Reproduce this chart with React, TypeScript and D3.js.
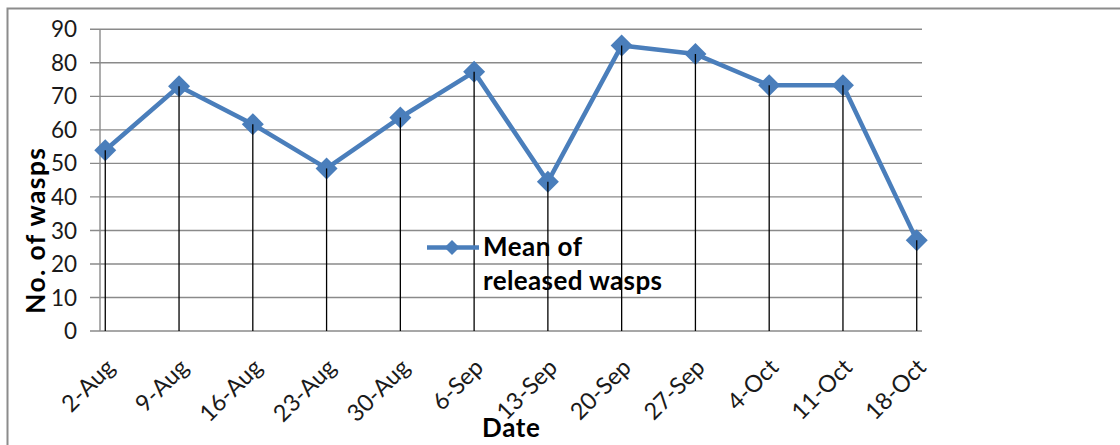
import React from "react";
import * as d3 from "d3";

const categories = ["2-Aug", "9-Aug", "16-Aug", "23-Aug", "30-Aug", "6-Sep", "13-Sep", "20-Sep", "27-Sep", "4-Oct", "11-Oct", "18-Oct"];
const meanReleased = [53.9, 73.0, 61.7, 48.5, 63.7, 77.3, 44.5, 85.2, 82.6, 73.3, 73.3, 27.1];
const yTicks = [0, 10, 20, 30, 40, 50, 60, 70, 80, 90];
const seriesName = ["Mean of", "released wasps"];
const xTitle = "Date";
const yTitle = "No. of wasps";

const W = 1120;
const H = 445;
const left = 100;
const right = 922;
const top = 29.3;
const bottom = 331;
const blue = "#4a7ebb";
const grid = "#8a8a8a";
const font = "Lato, 'Open Sans', sans-serif";

const parse = d3.timeParse("%d-%b-%Y");
const dates = categories.map((c) => parse(c + "-2000") as Date);
const halfDay = 12 * 3600 * 1000;

const x = d3
  .scaleTime()
  .domain([new Date(+dates[0] - halfDay), new Date(+dates[dates.length - 1] + halfDay)])
  .range([left, right]);
const y = d3.scaleLinear().domain([0, 90]).range([bottom, top]);

const diamond = (cx: number, cy: number, r: number) =>
  `M${cx},${cy - r}L${cx + r},${cy}L${cx},${cy + r}L${cx - r},${cy}Z`;

export default function App() {
  const pts = meanReleased.map((v, i) => [x(dates[i]), y(v)] as [number, number]);
  const line = d3.line()(pts) || "";
  const legY = 247.5;
  return (
    <svg width={W} height={H} style={{ position: "absolute", left: 0, top: 0, display: "block", background: "#fff" }}>
      {/* chart border */}
      <path d={`M7.5,${H + 5}V8.5H${W + 5}`} fill="none" stroke="#8c8c8c" strokeWidth={2} />
      {/* gridlines */}
      {yTicks.map((t) => (
        <line key={t} x1={left - 10} x2={right} y1={y(t)} y2={y(t)} stroke={grid} strokeWidth={1.4} />
      ))}
      <line x1={left} x2={left} y1={top} y2={bottom} stroke={grid} strokeWidth={1.4} />
      {/* y tick labels */}
      {yTicks.map((t) => (
        <text key={t} x={77} y={y(t)} dy="0.36em" textAnchor="end" fontFamily={font} fontSize={22.5} fill="#1a1a1a">
          {t}
        </text>
      ))}
      {/* x labels */}
      {categories.map((c, i) => (
        <text
          key={c}
          transform={`translate(${x(dates[i]) + 5},${bottom + 32}) rotate(-45)`}
          dy="0.35em"
          textAnchor="end"
          fontFamily={font}
          fontSize={23.5}
          fill="#1a1a1a"
        >
          {c}
        </text>
      ))}
      {/* series */}
      <path d={line} fill="none" stroke={blue} strokeWidth={4.5} strokeLinejoin="round" />
      {pts.map(([px, py], i) => (
        <path key={i} d={diamond(px, py, 11)} fill={blue} />
      ))}
      {/* drop lines */}
      {pts.map(([px, py], i) => (
        <line key={i} x1={px} x2={px} y1={py} y2={bottom} stroke="#000" strokeWidth={1.3} />
      ))}
      {/* legend */}
      <line x1={427} x2={479} y1={legY} y2={legY} stroke={blue} strokeWidth={4.5} />
      <path d={diamond(452, legY, 7.5)} fill={blue} />
      <text x={483} y={256} fontFamily={font} fontWeight="bold" fontSize={26} fill="#000" textLength={99} lengthAdjust="spacing">
        {seriesName[0]}
      </text>
      <text x={483} y={290} fontFamily={font} fontWeight="bold" fontSize={26} fill="#000" textLength={179} lengthAdjust="spacing">
        {seriesName[1]}
      </text>
      {/* axis titles */}
      <text x={511} y={437} textAnchor="middle" fontFamily={font} fontWeight="bold" fontSize={26} fill="#000" textLength={58} lengthAdjust="spacing">
        {xTitle}
      </text>
      <text
        transform={`translate(45,231) rotate(-90)`}
        textAnchor="middle"
        fontFamily={font}
        fontWeight="bold"
        fontSize={26.5}
        fill="#000"
        textLength={166}
        lengthAdjust="spacing"
      >
        {yTitle}
      </text>
    </svg>
  );
}
